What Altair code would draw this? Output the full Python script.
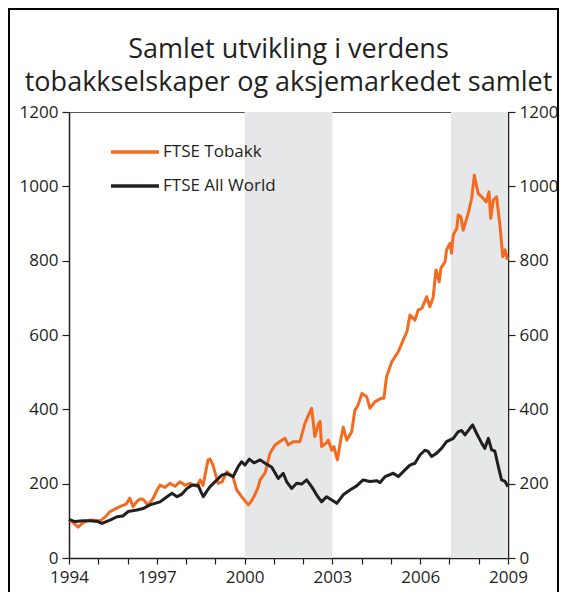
import altair as alt
import pandas as pd

# --- data ---
tobakk_t = [1994.00, 1994.14, 1994.31, 1994.48, 1994.72, 1995.06, 1995.26, 1995.40, 1995.74, 1995.95,
            1996.08, 1996.19, 1996.32, 1996.43, 1996.53, 1996.70, 1996.87, 1997.01, 1997.11, 1997.28,
            1997.45, 1997.62, 1997.79, 1997.96, 1998.13, 1998.37, 1998.48, 1998.58, 1998.75, 1998.82,
            1998.92, 1999.09, 1999.23, 1999.39, 1999.60, 1999.73, 1999.90, 2000.13, 2000.25, 2000.35,
            2000.46, 2000.53, 2000.70, 2000.87, 2001.04, 2001.27, 2001.38, 2001.49, 2001.66, 2001.89,
            2002.06, 2002.29, 2002.40, 2002.52, 2002.58, 2002.63, 2002.80, 2002.86, 2002.98, 2003.05,
            2003.17, 2003.29, 2003.37, 2003.49, 2003.66, 2003.77, 2003.87, 2004.01, 2004.17, 2004.28,
            2004.45, 2004.68, 2004.76, 2004.85, 2005.03, 2005.25, 2005.42, 2005.55, 2005.65, 2005.82,
            2005.93, 2006.06, 2006.22, 2006.33, 2006.44, 2006.54, 2006.65, 2006.71, 2006.85, 2006.90,
            2007.02, 2007.07, 2007.13, 2007.25, 2007.30, 2007.39, 2007.47, 2007.64, 2007.76, 2007.85,
            2007.98, 2008.15, 2008.26, 2008.35, 2008.41, 2008.50, 2008.61, 2008.73, 2008.82, 2008.90,
            2008.98]
tobakk_v = [104, 95, 83, 95, 102, 100, 112, 125, 138, 145,
            161, 138, 152, 159, 158, 142, 160, 183, 196, 190,
            201, 193, 205, 196, 201, 193, 210, 195, 264, 266,
            250, 201, 205, 232, 219, 183, 165, 143, 155, 170,
            190, 210, 229, 282, 304, 317, 322, 304, 313, 313,
            362, 403, 327, 360, 367, 300, 310, 317, 290, 300,
            264, 320, 352, 317, 340, 398, 410, 443, 434, 403,
            420, 430, 430, 488, 528, 555, 586, 610, 654, 640,
            667, 672, 703, 676, 700, 775, 743, 780, 797, 829,
            847, 820, 869, 887, 923, 918, 882, 927, 968, 1030,
            981, 968, 958, 985, 914, 963, 972, 891, 811, 829,
            802]

world_t = [1994.00, 1994.20, 1994.48, 1994.72, 1994.99, 1995.13, 1995.40, 1995.64, 1995.84, 1996.02,
           1996.32, 1996.53, 1996.77, 1997.11, 1997.35, 1997.52, 1997.69, 1997.86, 1998.03, 1998.20,
           1998.41, 1998.51, 1998.59, 1998.71, 1998.82, 1999.05, 1999.22, 1999.39, 1999.61, 1999.78,
           1999.90, 2000.01, 2000.16, 2000.32, 2000.53, 2000.70, 2000.93, 2001.15, 2001.32, 2001.44,
           2001.61, 2001.78, 2001.95, 2002.12, 2002.29, 2002.46, 2002.63, 2002.80, 2002.98, 2003.15,
           2003.37, 2003.60, 2003.83, 2004.05, 2004.28, 2004.51, 2004.63, 2004.80, 2005.08, 2005.25,
           2005.48, 2005.65, 2005.82, 2005.99, 2006.16, 2006.27, 2006.39, 2006.56, 2006.73, 2006.90,
           2007.13, 2007.30, 2007.42, 2007.53, 2007.70, 2007.79, 2007.93, 2008.10, 2008.21, 2008.33,
           2008.44, 2008.55, 2008.67, 2008.78, 2008.90, 2009.00]
world_v = [104, 98, 100, 100, 98, 93, 102, 111, 113, 125,
           129, 133, 143, 151, 165, 174, 165, 172, 187, 196,
           196, 178, 165, 180, 192, 210, 223, 227, 219, 246,
           259, 250, 266, 256, 264, 255, 244, 214, 228, 205,
           187, 201, 199, 210, 192, 170, 151, 165, 156, 147,
           170, 183, 194, 210, 206, 208, 203, 219, 228, 219,
           237, 250, 255, 277, 290, 287, 273, 282, 295, 313,
           322, 340, 343, 331, 349, 358, 335, 309, 295, 322,
           291, 288, 246, 210, 206, 192]

series_names = ["FTSE Tobakk", "FTSE All World"]
series_colors = ["#f26b21", "#231f20"]

band_start = [2000.0, 2007.05]
band_end = [2003.0, 2009.0]

year_ticks = list(range(1994, 2010))
y_ticks = [0, 200, 400, 600, 800, 1000, 1200]

title_lines = ["Samlet utvikling i verdens", "tobakkselskaper og aksjemarkedet samlet"]

# --- tables ---
lines_df = pd.concat([
    pd.DataFrame({"t": tobakk_t, "v": tobakk_v, "serie": series_names[0]}),
    pd.DataFrame({"t": world_t, "v": world_v, "serie": series_names[1]}),
], ignore_index=True)
band_df = pd.DataFrame({"start": band_start, "end": band_end})

FONT = "Open Sans"
INK = "#231f20"
W, H = 439, 446
PAD = {"left": 61, "top": 104, "right": 51, "bottom": 34}

xscale = alt.Scale(domain=[1994, 2009], nice=False, zero=False)
yscale = alt.Scale(domain=[0, 1200], nice=False)

xaxis = alt.Axis(values=year_ticks, format="d", title=None,
                 labelExpr="(datum.value - 1994) % 3 == 0 ? datum.label : ''",
                 labelOverlap=False, labelFlush=False,
                 tickSize=6, labelPadding=5)

def yaxis(orient):
    return alt.Axis(orient=orient, values=y_ticks, format="d", title=None, tickSize=7,
                    labelPadding=4, labelOverlap=False, labelFlush=False)

bands = alt.Chart(band_df).mark_rect(color="#e6e7e8").encode(
    x=alt.X("start:Q", scale=xscale, axis=xaxis),
    x2="end:Q",
)

lines = alt.Chart(lines_df).mark_line(strokeWidth=3, strokeJoin="round").encode(
    x=alt.X("t:Q", scale=xscale, axis=xaxis),
    y=alt.Y("v:Q", scale=yscale, axis=yaxis("left")),
    color=alt.Color("serie:N", sort=series_names,
                    scale=alt.Scale(domain=series_names, range=series_colors),
                    legend=alt.Legend(title=None, orient="none", legendX=40, legendY=14,
                                      symbolType="stroke", symbolStrokeWidth=3.5, symbolSize=2300,
                                      labelFontSize=17, labelFont=FONT, labelColor=INK,
                                      rowPadding=0, labelOffset=2)),
    order="t:Q",
)

right_axis = alt.Chart(lines_df).mark_line(opacity=0).encode(
    x=alt.X("t:Q", scale=xscale, axis=xaxis),
    y=alt.Y("v:Q", scale=yscale, axis=yaxis("right")),
    detail="serie:N",
)

frame = alt.Chart(band_df).mark_rect(fill="transparent", stroke="#000000", strokeWidth=2).encode(
    x=alt.value(-PAD["left"] + 1), x2=alt.value(W + PAD["right"] - 1),
    y=alt.value(-PAD["top"] + 1), y2=alt.value(H + 60),
)

chart = alt.layer(bands, lines, right_axis, frame).resolve_scale(y="independent").properties(
    width=W, height=H,
    padding=PAD,
    autosize=alt.AutoSizeParams(type="none"),
    title=alt.TitleParams(title_lines, fontSize=27, font=FONT, fontWeight="normal", color=INK,
                          anchor="middle", baseline="bottom", offset=-116, lineHeight=33),
).configure_view(stroke="#555555", strokeWidth=1).configure_axis(
    grid=False, domainColor=INK, domainWidth=1.5, tickColor=INK, tickWidth=1.2,
    labelFont=FONT, labelFontSize=17, labelColor=INK, labelOverlap=False,
).configure_axisX(labelOverlap=False, labelFlush=False)

chart.save("out.html", embed_options={"renderer": "svg", "actions": False})
